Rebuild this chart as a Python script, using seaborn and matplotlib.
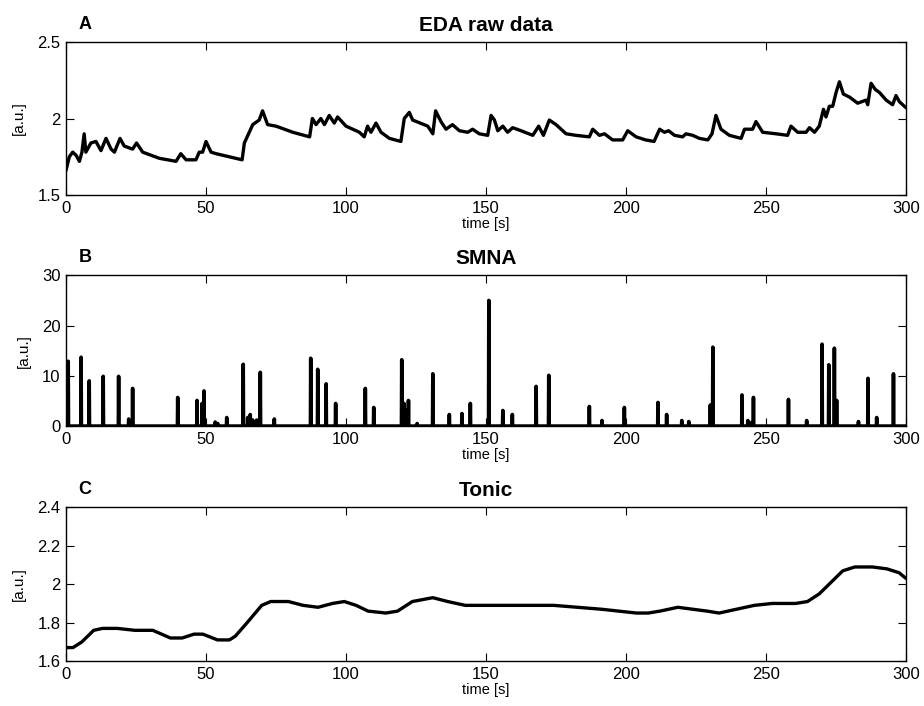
import numpy as np
import pandas as pd
import matplotlib
matplotlib.use("Agg")
import matplotlib.pyplot as plt
from matplotlib.ticker import FormatStrFormatter
import seaborn as sns

# EDA raw signal
eda_t = [0, 1.2, 2.4, 3.6, 4.8, 5.7, 6.5, 7.1, 8.9, 10.7, 12.5, 14.3, 16.1, 17.3, 19.3,
         20.8, 23.8, 25.2, 27.4, 33.3, 39.3, 41, 42.9, 46.4, 47.6, 48.8, 50, 51.8, 53.6,
         58.3, 62.9, 63.7, 66.7, 69, 70.2, 72, 75, 81, 87, 88, 89.3, 91, 92.3, 94, 95.8,
         97, 100, 102.4, 104.8, 106.5, 107.7, 108.9, 110.7, 112.5, 115.5, 119.6, 120.8,
         122.6, 123.8, 129.2, 131, 132, 133.9, 135.7, 138, 140.5, 143.5, 145.2, 147.6,
         150.6, 151.8, 153, 154.2, 156, 157.7, 159.5, 162.5, 166.7, 168.8, 170.5, 172.6,
         175, 178.6, 182.1, 186.9, 188.1, 190.5, 192.3, 195.2, 198.8, 200.6, 203.6, 207,
         210, 212, 213.7, 215.2, 217.3, 220.2, 221.4, 223.8, 226.2, 229.2, 230.7, 232.1,
         233.9, 236.9, 241.1, 242.3, 245.2, 246.4, 248.8, 253.6, 257.7, 258.9, 261.3,
         264.3, 265.5, 267.3, 269, 270.5, 271.4, 272.6, 273.8, 275, 276.2, 277.6, 279.8,
         282.7, 285.7, 286.3, 287.5, 289, 290.5, 292.9, 295.2, 296.4, 297.6, 300]
eda_v = [1.66, 1.75, 1.78, 1.76, 1.72, 1.78, 1.90, 1.78, 1.84, 1.85, 1.79, 1.87, 1.80, 1.78,
         1.87, 1.82, 1.80, 1.84, 1.78, 1.74, 1.72, 1.77, 1.73, 1.73, 1.78, 1.78, 1.85, 1.78,
         1.77, 1.75, 1.73, 1.84, 1.96, 1.99, 2.05, 1.96, 1.95, 1.91, 1.88, 2.00, 1.96, 2.00,
         1.96, 2.02, 1.97, 2.01, 1.95, 1.93, 1.91, 1.88, 1.95, 1.91, 1.97, 1.91, 1.87, 1.85,
         2.00, 2.04, 1.99, 1.95, 1.90, 2.05, 1.98, 1.93, 1.96, 1.92, 1.91, 1.93, 1.90, 1.89,
         2.02, 1.99, 1.92, 1.95, 1.91, 1.94, 1.92, 1.89, 1.95, 1.89, 1.99, 1.96, 1.90, 1.89,
         1.88, 1.93, 1.89, 1.90, 1.86, 1.86, 1.92, 1.88, 1.86, 1.85, 1.93, 1.91, 1.92, 1.89,
         1.88, 1.90, 1.89, 1.87, 1.86, 1.90, 2.02, 1.93, 1.89, 1.87, 1.93, 1.93, 1.98, 1.91,
         1.90, 1.89, 1.95, 1.91, 1.91, 1.94, 1.91, 1.95, 2.06, 2.01, 2.08, 2.08, 2.17, 2.24,
         2.16, 2.14, 2.10, 2.12, 2.09, 2.23, 2.19, 2.17, 2.12, 2.09, 2.15, 2.11, 2.07]

# SMNA spikes: time and amplitude
spike_t = [0.8, 5.4, 8.3, 13.3, 18.8, 22.4, 23.8, 39.9, 46.8, 48.6, 49.3, 53.3, 54.2, 57.4,
           63.3, 64.9, 65.8, 66.7, 68.1, 69.4, 74.4, 87.4, 89.9, 92.9, 96.3, 106.9, 109.9,
           119.9, 120.7, 121.4, 122.3, 125.4, 131, 136.9, 141.4, 144.4, 151, 156, 159.4,
           167.9, 172.4, 186.9, 191.4, 199.4, 211.4, 214.5, 219.9, 222.4, 230.1, 231,
           241.4, 243.5, 244.8, 245.5, 258, 264.5, 270, 272.4, 274.4, 275.2, 283, 286.4,
           289.5, 295.5]
spike_h = [12.9, 13.7, 9.0, 9.9, 9.9, 1.4, 7.5, 5.7, 5.1, 4.5, 7.0, 0.8, 0.5, 1.7,
           12.3, 1.7, 2.3, 1.2, 1.2, 10.7, 1.4, 13.5, 11.3, 8.4, 4.5, 7.5, 3.7,
           13.2, 4.5, 3.2, 5.1, 0.5, 10.4, 2.3, 2.5, 4.5, 25.0, 3.1, 2.3,
           7.9, 10.1, 3.9, 1.1, 3.7, 4.7, 2.3, 1.1, 0.9, 4.2, 15.7,
           6.2, 1.1, 0.7, 5.7, 5.3, 1.1, 16.3, 12.2, 15.5, 5.1, 0.9, 9.5,
           1.7, 10.4]

# Tonic component
tonic_t = [0, 2.5, 5.7, 9.9, 13, 18.3, 24.6, 31, 37.3, 41.5, 45.7, 48.9, 54.1, 58.4, 60.5,
           64.7, 69.9, 73.1, 79.4, 84.7, 90, 95.2, 99.4, 103.6, 107.9, 114.2, 118.4, 123.7,
           131, 136.3, 142.6, 148.9, 157.4, 165.8, 174.2, 182.6, 191.1, 197.4, 203.7, 207.9,
           212.1, 218.5, 223.7, 229, 233.2, 239.5, 245.8, 252.2, 260.6, 264.8, 269, 273.2,
           277.4, 281.7, 288, 293.2, 297.5, 300]
tonic_v = [1.67, 1.67, 1.70, 1.76, 1.77, 1.77, 1.76, 1.76, 1.72, 1.72, 1.74, 1.74, 1.71, 1.71,
           1.73, 1.80, 1.89, 1.91, 1.91, 1.89, 1.88, 1.90, 1.91, 1.89, 1.86, 1.85, 1.86, 1.91,
           1.93, 1.91, 1.89, 1.89, 1.89, 1.89, 1.89, 1.88, 1.87, 1.86, 1.85, 1.85, 1.86, 1.88,
           1.87, 1.86, 1.85, 1.87, 1.89, 1.90, 1.90, 1.91, 1.95, 2.01, 2.07, 2.09, 2.09, 2.08,
           2.06, 2.03]

# SMNA as a sampled signal: zero everywhere except at the spikes
grid_t = np.round(np.arange(0, 300.05, 0.1), 1)
smna = np.zeros_like(grid_t)
smna[np.round(np.array(spike_t) * 10).astype(int)] = spike_h

sns.set_style("ticks")
plt.rcParams['font.family'] = ['Liberation Sans', 'DejaVu Sans']
plt.rcParams['text.color'] = 'black'
plt.rcParams['axes.labelcolor'] = 'black'

fig = plt.figure(figsize=(9.24, 7.06), dpi=100)
boxes = [[0.0714, 0.7238, 0.9092, 0.2167],
         [0.0714, 0.3965, 0.9092, 0.2135],
         [0.0714, 0.0637, 0.9092, 0.2175]]
axes = [fig.add_axes(b) for b in boxes]

sns.lineplot(x=eda_t, y=eda_v, ax=axes[0], color='black', lw=2.4, estimator=None)
sns.lineplot(x=grid_t, y=smna, ax=axes[1], color='black', lw=2.6, estimator=None)
sns.lineplot(x=tonic_t, y=tonic_v, ax=axes[2], color='black', lw=2.4, estimator=None)

titles = ['EDA raw data', 'SMNA', 'Tonic']
letters = ['A', 'B', 'C']
ylims = [(1.5, 2.5), (0, 30), (1.6, 2.4)]
yticks = [[1.5, 2, 2.5], [0, 10, 20, 30], [1.6, 1.8, 2.0, 2.2, 2.4]]

for ax, title, letter, yl, yt in zip(axes, titles, letters, ylims, yticks):
    ax.set_xlim(0, 300)
    ax.set_ylim(*yl)
    ax.set_xticks(range(0, 301, 50))
    ax.set_yticks(yt)
    ax.yaxis.set_major_formatter(FormatStrFormatter('%g'))
    ax.tick_params(direction='in', top=True, right=True, length=6, width=0.8,
                   labelsize=12, pad=4, colors='black')
    for s in ax.spines.values():
        s.set_linewidth(1.0)
        s.set_color('black')
    ax.set_title(title, fontsize=15, fontweight='bold', pad=8, color='black')
    ax.text(0.015, 1.06, letter, transform=ax.transAxes, fontsize=13,
            fontweight='bold', ha='left', va='bottom', color='black')
    ax.set_xlabel('time [s]', fontsize=10.5, labelpad=1)
    ax.set_ylabel('[a.u.]', fontsize=11, labelpad=8)

fig.savefig('out.png', dpi=100)
